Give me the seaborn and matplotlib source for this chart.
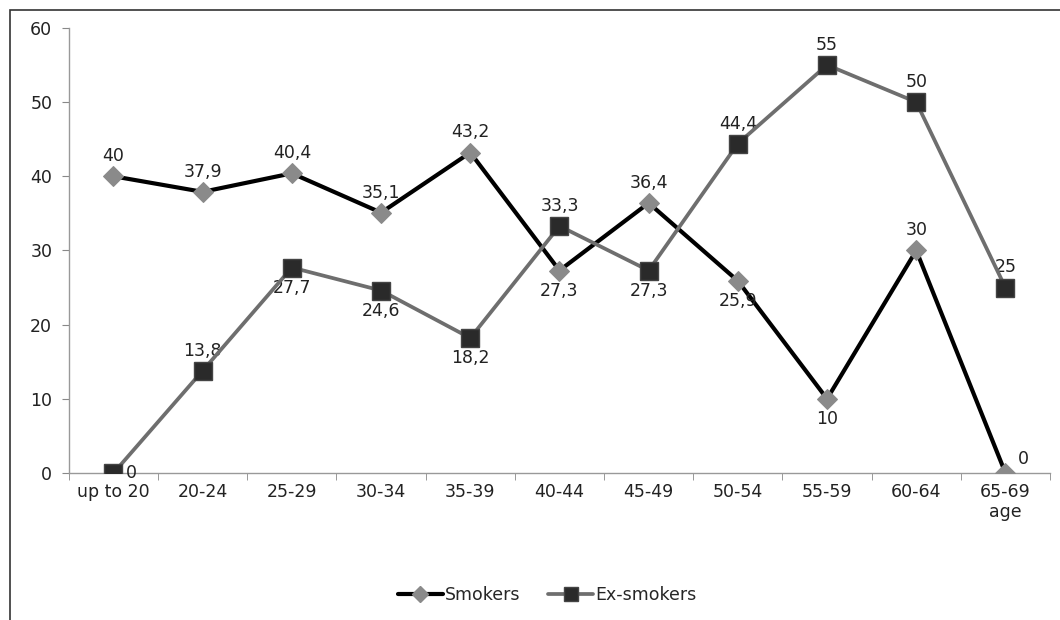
import numpy as np
import pandas as pd
import seaborn as sns
import matplotlib.pyplot as plt
from matplotlib.patches import Rectangle
from matplotlib.lines import Line2D

# data
age_groups = ["up to 20", "20-24", "25-29", "30-34", "35-39", "40-44",
              "45-49", "50-54", "55-59", "60-64", "65-69"]
smokers = [40, 37.9, 40.4, 35.1, 43.2, 27.3, 36.4, 25.9, 10, 30, 0]
ex_smokers = [0, 13.8, 27.7, 24.6, 18.2, 33.3, 27.3, 44.4, 55, 50, 25]
smokers_pos = ["above", "above", "above", "above", "above", "below",
               "above", "below", "below", "above", "upright"]
ex_pos = ["right", "above", "below", "below", "below", "above",
          "below", "above", "above", "above", "above"]

sns.set_style("white")
plt.rcParams["font.family"] = ["DejaVu Sans"]
FS = 12.5
TXT = "#222222"

df = pd.DataFrame({"x": np.arange(len(age_groups)),
                   "Smokers": smokers, "Ex-smokers": ex_smokers})

fig = plt.figure(figsize=(10.6, 6.2), dpi=100)
ax = fig.add_axes([0.065, 0.237, 0.9256, 0.718])

sns.lineplot(data=df, x="x", y="Smokers", ax=ax, color="black", lw=3,
             marker="D", markersize=10, markerfacecolor="#8a8a8a",
             markeredgecolor="#8a8a8a", zorder=3)
sns.lineplot(data=df, x="x", y="Ex-smokers", ax=ax, color="#6e6e6e", lw=2.7,
             marker="s", markersize=13, markerfacecolor="#2a2a2a",
             markeredgecolor="#444444", markeredgewidth=1, zorder=4)

def label(xs, ys, pos):
    for x, y, p in zip(xs, ys, pos):
        t = ("%g" % y).replace(".", ",")
        if p == "above":
            ax.annotate(t, (x, y), xytext=(0, 8), textcoords="offset points",
                        ha="center", va="bottom", fontsize=FS, color=TXT)
        elif p == "below":
            ax.annotate(t, (x, y), xytext=(0, -8), textcoords="offset points",
                        ha="center", va="top", fontsize=FS, color=TXT)
        elif p == "upright":
            ax.annotate(t, (x, y), xytext=(9, 4), textcoords="offset points",
                        ha="left", va="bottom", fontsize=FS, color=TXT)
        else:
            ax.annotate(t, (x, y), xytext=(9, 0), textcoords="offset points",
                        ha="left", va="center", fontsize=FS, color=TXT)

label(df["x"], smokers, smokers_pos)
label(df["x"], ex_smokers, ex_pos)

ax.set_xlim(-0.5, len(age_groups) - 0.5)
ax.set_ylim(0, 60)
ax.set_yticks(range(0, 61, 10))
ax.set_xticks(df["x"])
ax.set_xticklabels(age_groups)
ax.set_xticks(np.arange(-0.5, len(age_groups), 1), minor=True)
ax.tick_params(axis="x", which="major", length=0, pad=7, labelsize=FS, colors=TXT)
ax.tick_params(axis="x", which="minor", length=5, color="#888888", bottom=True)
ax.tick_params(axis="y", length=5, color="#888888", left=True, labelsize=FS,
               pad=7, colors=TXT)
ax.set_xlabel("")
ax.set_ylabel("")
for s in ["top", "right"]:
    ax.spines[s].set_visible(False)
for s in ["left", "bottom"]:
    ax.spines[s].set_color("#999999")
    ax.spines[s].set_linestyle((0, (1, 1)))
    ax.spines[s].set_linewidth(1)

ax.text(len(age_groups) - 1, -0.068, "age", transform=ax.get_xaxis_transform(),
        ha="center", va="top", fontsize=FS, color=TXT)

handles = [Line2D([], [], color="black", lw=3, marker="D", markersize=8,
                  markerfacecolor="#8a8a8a", markeredgecolor="#8a8a8a"),
           Line2D([], [], color="#6e6e6e", lw=2.7, marker="s", markersize=10,
                  markerfacecolor="#2a2a2a", markeredgecolor="#444444")]
fig.legend(handles, ["Smokers", "Ex-smokers"], loc="center",
           bbox_to_anchor=(0.516, 0.04), ncol=2, frameon=False,
           fontsize=FS, handlelength=2.6, handletextpad=0.1, columnspacing=1.6)

fig.patches.append(Rectangle((10 / 1060, -0.1), 1.2, (620 - 10) / 620 + 0.1,
                             transform=fig.transFigure, fill=False,
                             edgecolor="#333333", lw=1.2))

fig.savefig("out.png", dpi=100)
